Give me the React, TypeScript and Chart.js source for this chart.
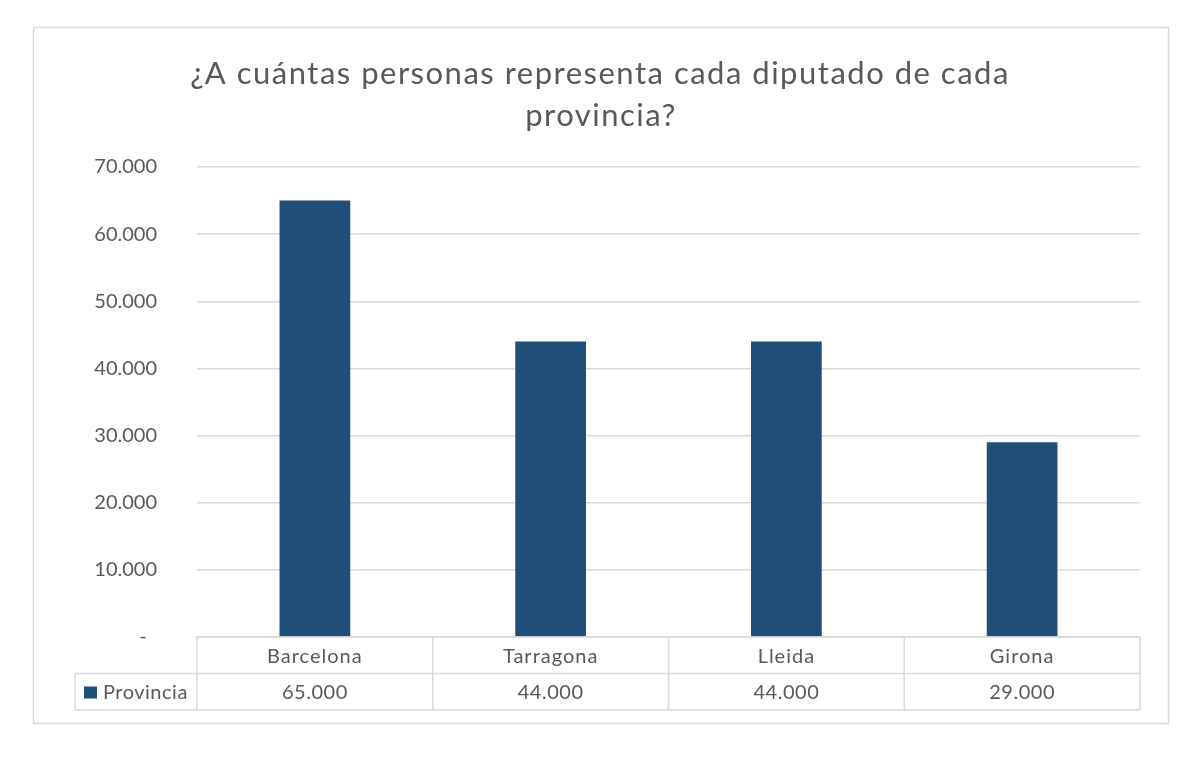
import React, { useEffect, useRef } from "react";
import { Chart, registerables } from "chart.js";

Chart.register(...registerables);

const TITLE_LINES = ["¿A cuántas personas representa cada diputado de cada", "provincia?"];
const CATEGORIES = ["Barcelona", "Tarragona", "Lleida", "Girona"];
const SERIES_NAME = "Provincia";
const VALUES = [65000, 44000, 44000, 29000];
const Y_MIN = 0;
const Y_MAX = 70000;
const Y_STEP = 10000;

const BAR_COLOR = "#1F4E79";
const TEXT_COLOR = "#595959";
const LINE_COLOR = "#D9D9D9";
const FONT = "Lato";

function fmt(v: number): string {
  if (v === 0) return "-  ";
  return String(Math.round(v)).replace(/\B(?=(\d{3})+(?!\d))/g, ".");
}

const decorPlugin = {
  id: "decor",
  beforeDraw(chart: any) {
    const ctx = chart.ctx;
    ctx.save();
    ctx.fillStyle = "#ffffff";
    ctx.fillRect(0, 0, chart.width, chart.height);
    ctx.strokeStyle = LINE_COLOR;
    ctx.lineWidth = 1.5;
    ctx.strokeRect(33.5, 27.5, 1135, 696);
    ctx.restore();
  },
  afterDraw(chart: any) {
    const ctx = chart.ctx;
    const area = chart.chartArea;
    const x = chart.scales.x;
    ctx.save();
    // title
    ctx.fillStyle = TEXT_COLOR;
    ctx.font = `31px ${FONT}`;
    (ctx as any).letterSpacing = "1.5px";
    ctx.textAlign = "center";
    ctx.textBaseline = "middle";
    ctx.fillText(TITLE_LINES[0], 600, 74);
    ctx.fillText(TITLE_LINES[1], 601, 116);

    // data table
    const top = area.bottom;
    const rowH = 36.5;
    const mid = top + rowH;
    const bot = top + rowH * 2;
    const labelLeft = 75;
    ctx.strokeStyle = LINE_COLOR;
    ctx.lineWidth = 1.5;
    ctx.beginPath();
    ctx.moveTo(area.left, top);
    ctx.lineTo(area.right, top);
    ctx.moveTo(labelLeft, mid);
    ctx.lineTo(area.right, mid);
    ctx.moveTo(labelLeft, bot);
    ctx.lineTo(area.right, bot);
    ctx.moveTo(labelLeft, mid);
    ctx.lineTo(labelLeft, bot);
    const n = CATEGORIES.length;
    const colW = (area.right - area.left) / n;
    for (let i = 0; i <= n; i++) {
      const xx = area.left + colW * i;
      ctx.moveTo(xx, top);
      ctx.lineTo(xx, bot);
    }
    ctx.stroke();

    ctx.fillStyle = TEXT_COLOR;
    ctx.font = `20px ${FONT}`;
    ctx.textAlign = "center";
    ctx.textBaseline = "middle";
    CATEGORIES.forEach((c, i) => {
      const cx = x.getPixelForValue(i);
      (ctx as any).letterSpacing = "1px";
      ctx.fillText(c, cx, top + rowH / 2 + 1);
      (ctx as any).letterSpacing = "0.5px";
      ctx.fillText(fmt(VALUES[i]), cx, mid + rowH / 2 + 1);
    });
    // legend key
    ctx.fillStyle = BAR_COLOR;
    ctx.fillRect(84, mid + 13, 13, 12);
    ctx.fillStyle = TEXT_COLOR;
    ctx.textAlign = "left";
    (ctx as any).letterSpacing = "0.5px";
    ctx.fillText(SERIES_NAME, 103, mid + rowH / 2 + 1);
    ctx.restore();
  },
};

export default function App() {
  const ref = useRef<HTMLCanvasElement | null>(null);
  useEffect(() => {
    if (!ref.current) return;
    const chart = new Chart(ref.current, {
      type: "bar",
      data: {
        labels: CATEGORIES,
        datasets: [
          {
            label: SERIES_NAME,
            data: VALUES,
            backgroundColor: BAR_COLOR,
            barPercentage: 0.3,
            categoryPercentage: 1,
          },
        ],
      },
      options: {
        animation: false,
        responsive: false,
        devicePixelRatio: 1,
        layout: { padding: { left: 33, right: 60, top: 167, bottom: 130 } },
        plugins: {
          legend: { display: false },
          title: { display: false },
          tooltip: { enabled: false },
        },
        scales: {
          x: { display: false },
          y: {
            min: Y_MIN,
            max: Y_MAX,
            border: { display: false },
            grid: { color: LINE_COLOR, lineWidth: 1.5, drawTicks: false },
            ticks: {
              stepSize: Y_STEP,
              padding: 40,
              color: TEXT_COLOR,
              font: { family: FONT, size: 20 },
              callback: (v: any) => fmt(Number(v)),
            },
            afterFit: (s: any) => {
              s.width = 164;
            },
          },
        },
      },
      plugins: [decorPlugin],
    });
    return () => chart.destroy();
  }, []);
  return (
    <div style={{ position: "fixed", left: 0, top: 0, width: 1200, height: 767, background: "#fff" }}>
      <canvas ref={ref} width={1200} height={767} style={{ width: 1200, height: 767, display: "block" }} />
    </div>
  );
}
